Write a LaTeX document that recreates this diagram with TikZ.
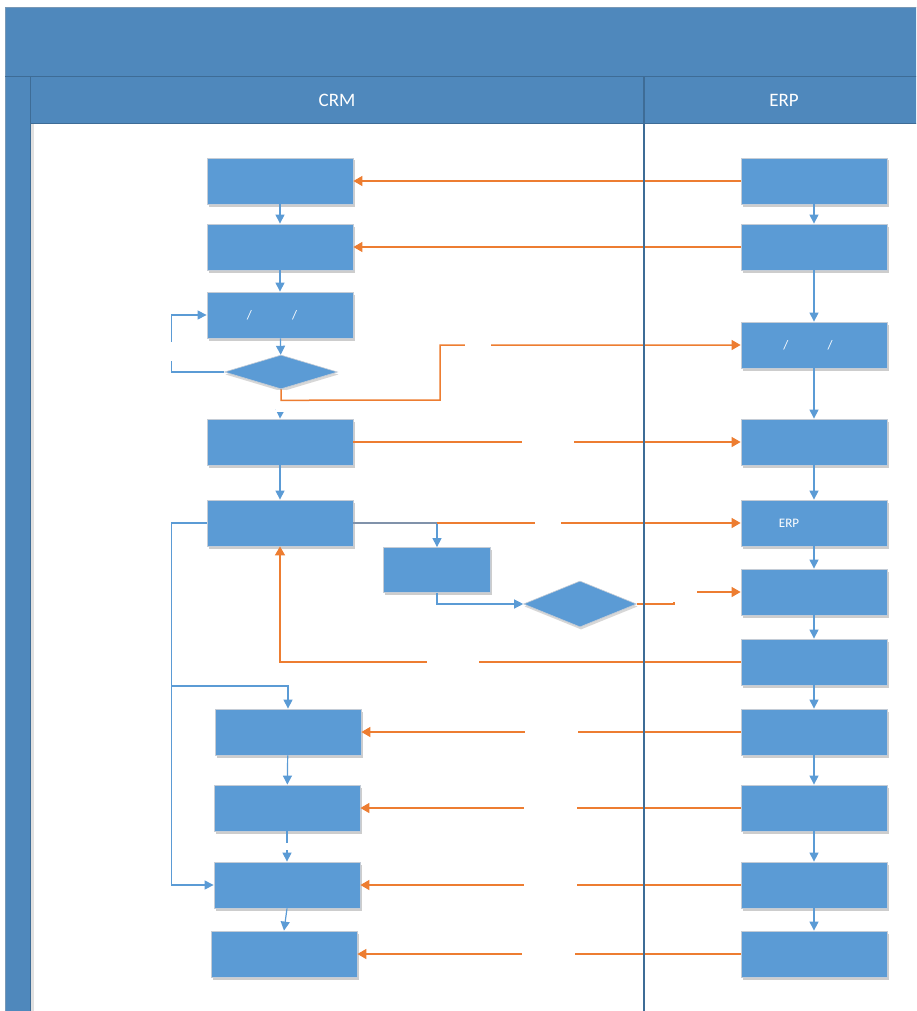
\documentclass[tikz,border=0pt]{standalone}
\usepackage{fontspec}
\setmainfont{Carlito}
\usetikzlibrary{arrows.meta,shadows,shapes.geometric}

\definecolor{poolblue}{RGB}{79,136,188}
\definecolor{poolline}{RGB}{62,108,150}
\definecolor{boxblue}{RGB}{91,155,213}
\definecolor{boxedge}{RGB}{196,204,214}
\definecolor{flowblue}{RGB}{91,155,213}
\definecolor{msgorange}{RGB}{237,125,49}
\definecolor{linkgray}{RGB}{128,146,170}

\tikzset{
  procbox/.style={rectangle, fill=boxblue, draw=boxedge, line width=0.8pt,
    minimum width=146pt, minimum height=46pt, inner sep=0pt,
    drop shadow={shadow xshift=1.5pt, shadow yshift=-2.5pt, opacity=0.28, fill=black!70},
    text=white, font=\fontsize{13}{14}\selectfont},
  decision/.style={diamond, fill=boxblue, draw=boxedge, line width=0.6pt,
    minimum width=113pt, inner sep=0pt,
    drop shadow={shadow xshift=1pt, shadow yshift=-2.5pt, opacity=0.22, fill=black!70}},
  flow/.style={draw=flowblue, line width=1.2pt, -{Triangle[length=9pt,width=9pt]}},
  msg/.style={draw=msgorange, line width=1.5pt, -{Triangle[length=9pt,width=10pt]}},
  gap/.style={fill=white, inner sep=0pt, outer sep=0pt},
  lanetitle/.style={text=white, font=\fontsize{19}{21}\selectfont}
}

\begin{document}
\begin{tikzpicture}[x=1pt, y=-1pt]
\clip (0,0) rectangle (916,1011);
\fill[white] (0,0) rectangle (916,1011);

% pool frame: title band, side band, lane headers
\fill[black!12] (30,124) rectangle (34,1015);
\fill[poolblue] (5,7) rectangle (920,77);
\fill[poolblue] (5,77) rectangle (30,1015);
\fill[poolblue] (30,77) rectangle (920,124);
\draw[poolline!70, line width=0.8pt] (5,1015) -- (5,7) -- (920,7);
\draw[poolline, line width=1pt] (5,77) -- (920,77);
\draw[poolline, line width=1pt] (30,124) -- (920,124);
\draw[poolline, line width=1pt] (30,77) -- (30,1015);
\node[lanetitle] (crm) at (337,100) {CRM};
\node[lanetitle] (erp) at (784,100) {ERP};

% CRM lane
\node[procbox] (c1) at (280,181) {};
\node[procbox] (c2) at (280,247) {};
\node[procbox] (c3) at (280,315) {/\kern40pt/\kern16pt};
\node[decision, minimum height=34pt] (d1) at (281,372) {};
\node[procbox] (c4) at (280,442) {};
\node[procbox] (c5) at (280,523) {};
\node[procbox, minimum width=107pt, minimum height=45pt] (c6) at (437,570) {};
\node[decision, minimum height=46pt] (d2) at (580,604) {};
\node[procbox] (c7) at (288,732) {};
\node[procbox] (c8) at (287,808) {};
\node[procbox] (c9) at (287,885) {};
\node[procbox] (c10) at (284,954) {};

% ERP lane
\node[procbox] (e1) at (814,181) {};
\node[procbox] (e2) at (814,247) {};
\node[procbox] (e3) at (814,345) {/\kern39pt/\kern12pt};
\node[procbox] (e4) at (814,442) {};
\node[procbox] (e5) at (814,523) {ERP\kern50pt};
\node[procbox] (e6) at (814,592) {};
\node[procbox] (e7) at (814,662) {};
\node[procbox] (e8) at (814,732) {};
\node[procbox] (e9) at (814,808) {};
\node[procbox] (e10) at (814,885) {};
\node[procbox] (e11) at (814,954) {};

% ERP sequence
\foreach \a/\b in {e1/e2,e2/e3,e3/e4,e4/e5,e5/e6,e6/e7,e7/e8,e8/e9,e9/e10,e10/e11}
  \draw[flow] (\a) -- (\b);

% CRM sequence
\draw[flow] (c1) -- (c2);
\draw[flow] (c2) -- (c3);
\draw[flow] (c3) -- (d1);
\draw[flow] (d1.west) -- ++(-53,0) |- (c3.west);
\node[gap, minimum width=6pt, minimum height=19pt] (g1) at (172,351) {};
\draw[flow] (d1.south) -- (c4.north);
\node[gap, minimum width=10pt, minimum height=22pt] (g2) at (281,401) {};
\draw[flow] (c4) -- (c5);
\coordinate (sp) at (c6.north |- c5.east);
\draw[linkgray, line width=1.2pt] (c5.east) -- (sp);
\draw[flow] (sp) -- (c6.north);
\draw[flow] (c6.south) |- (d2.west);
\draw[flow] (c5.west) -- ++(-35,0) |- (c9.west);
\coordinate (br) at (172,686);
\draw[flow] (br) -| (c7.north);
\draw[flow] (c7) -- (c8);
\draw[flow] (c8) -- (c9);
\node[gap, minimum width=6pt, minimum height=7pt] (g3) at (287,846.5) {};
\draw[flow] (c9.south) -- (c10.north);

% messages between the systems
\draw[msg] (e1) -- (c1);
\draw[msg] (e2) -- (c2);
\draw[msg] (d1.south) -- ++(0,11) -- (440,400) |- (e3.west);
\node[gap, minimum width=26pt, minimum height=8pt] (g4) at (478,345) {};
\draw[msg] (c4) -- (e4);
\node[gap, minimum width=52pt, minimum height=8pt] (g5) at (548,442) {};
\draw[msg] (sp) -- (e5.west);
\node[gap, minimum width=26pt, minimum height=8pt] (g6) at (548,523) {};
\draw[msg] (d2.east) -- ++(37,0) |- (e6.west);
\node[gap, minimum width=24pt, minimum height=12pt] (g7) at (685,596) {};
\draw[msg] (e7.west) -| (c5.south);
\node[gap, minimum width=52pt, minimum height=8pt] (g8) at (453,662) {};
\draw[msg] (e8) -- (c7);
\node[gap, minimum width=53pt, minimum height=8pt] (g9) at (551,732) {};
\draw[msg] (e9) -- (c8);
\node[gap, minimum width=53pt, minimum height=8pt] (g10) at (550,808) {};
\draw[msg] (e10) -- (c9);
\node[gap, minimum width=53pt, minimum height=8pt] (g11) at (550,885) {};
\draw[msg] (e11) -- (c10);
\node[gap, minimum width=53pt, minimum height=8pt] (g12) at (548,954) {};

% lane divider
\draw[poolline, line width=1.3pt] (644,77) -- (644,1015);
\end{tikzpicture}
\end{document}
